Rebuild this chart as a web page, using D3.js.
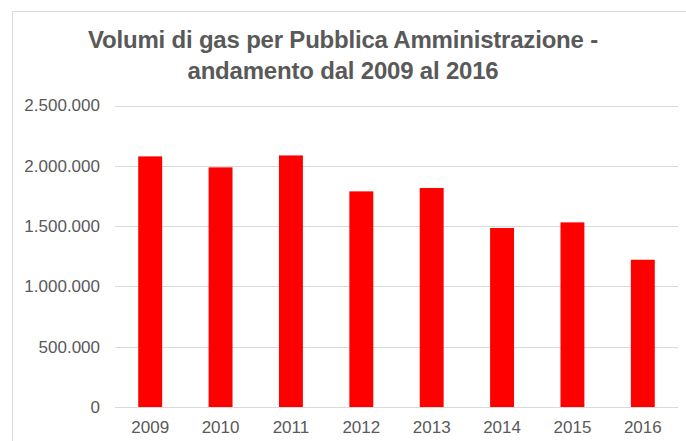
<!DOCTYPE html>
<head>
  <meta charset="utf-8" />
  <script src="https://d3js.org/d3.v7.min.js"></script>
  <style>
    body { margin: 0; background: #fff; }
    text { font-family: "Liberation Sans", Arial, sans-serif; fill: #595959; }
  </style>
</head>
<body>
  <script>
    // dati
    var anni = ["2009", "2010", "2011", "2012", "2013", "2014", "2015", "2016"];
    var volumi = [2078000, 1987000, 2086000, 1788000, 1816000, 1484000, 1531000, 1221000];
    var yTicks = [0, 500000, 1000000, 1500000, 2000000, 2500000];
    var titolo = ["Volumi di gas per Pubblica Amministrazione -", "andamento dal 2009 al 2016"];

    var width = 686, height = 441;

    var svg = d3.select("body").append("svg")
      .attr("width", width)
      .attr("height", height);

    // cornice del grafico (solo lati alto e sinistro visibili)
    svg.append("path")
      .attr("d", "M12.5," + height + "V11.5H" + width)
      .attr("fill", "none")
      .attr("stroke", "#d9d9d9")
      .attr("stroke-width", 1);

    // titolo
    svg.append("g").selectAll("text")
      .data(titolo)
      .join("text")
      .attr("x", 343)
      .attr("y", function (d, i) { return 48 + i * 31; })
      .attr("text-anchor", "middle")
      .style("font-size", "24px")
      .style("font-weight", "bold")
      .style("letter-spacing", "-0.2px")
      .text(function (d) { return d; });

    var x = d3.scaleBand()
      .domain(anni)
      .range([115, 678])
      .paddingInner(0.66)
      .paddingOuter(0.33);

    var y = d3.scaleLinear()
      .domain([0, 2500000])
      .range([407, 105.5]);

    var fmt = function (v) {
      return d3.format(",")(v).replace(/,/g, ".");
    };

    // griglia
    svg.append("g").selectAll("line")
      .data(yTicks)
      .join("line")
      .attr("x1", 115)
      .attr("x2", 678)
      .attr("y1", function (d) { return Math.round(y(d)) + 0.5; })
      .attr("y2", function (d) { return Math.round(y(d)) + 0.5; })
      .attr("stroke", "#d9d9d9")
      .attr("stroke-width", 1);

    // etichette asse y
    svg.append("g").selectAll("text")
      .data(yTicks)
      .join("text")
      .attr("x", 100)
      .attr("y", function (d) { return y(d); })
      .attr("dy", "0.35em")
      .attr("text-anchor", "end")
      .style("font-size", "17px")
      .text(fmt);

    // barre
    svg.append("g").selectAll("rect")
      .data(volumi)
      .join("rect")
      .attr("x", function (d, i) { return x(anni[i]); })
      .attr("y", function (d) { return y(d); })
      .attr("width", x.bandwidth())
      .attr("height", function (d) { return y(0) - y(d); })
      .attr("fill", "#ff0000");

    // etichette asse x
    svg.append("g").selectAll("text")
      .data(anni)
      .join("text")
      .attr("x", function (d) { return x(d) + x.bandwidth() / 2; })
      .attr("y", 427)
      .attr("dy", "0.35em")
      .attr("text-anchor", "middle")
      .style("font-size", "17px")
      .text(function (d) { return d; });
  </script>
</body>
